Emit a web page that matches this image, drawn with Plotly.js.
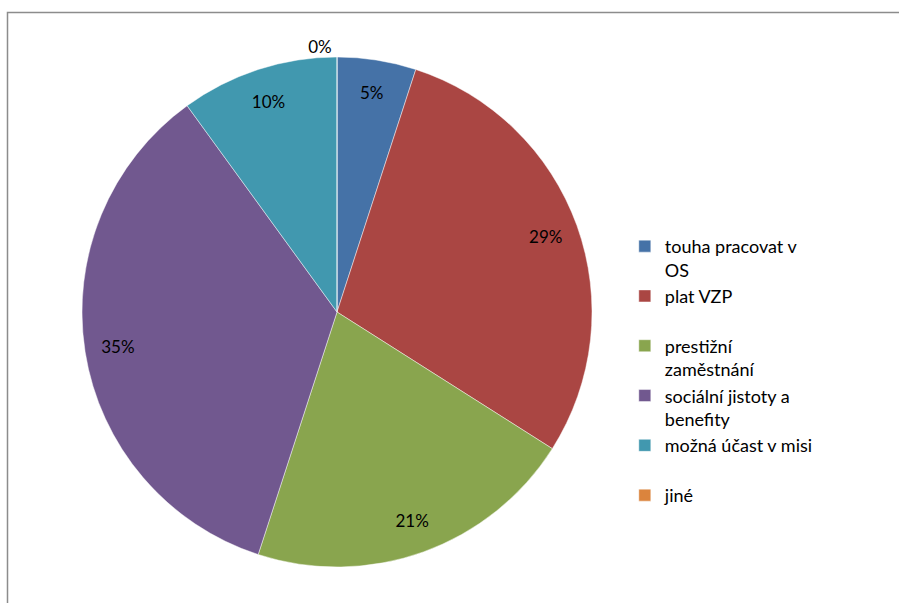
<!DOCTYPE html>
<html>
<head>
<meta charset="utf-8">
<script src="https://cdn.plot.ly/plotly-3.0.1.min.js"></script>
<style>html,body{margin:0;padding:0;background:#fff;}#chart{width:899px;height:603px;}</style>
</head>
<body>
<div id="chart"></div>
<script>
const categories = ["touha pracovat v<br>OS", "plat VZP<br> ", "prestižní<br>zaměstnání", "sociální jistoty a<br>benefity", "možná účast v misi<br> ", "jiné"];
const values = [5, 29, 21, 35, 10, 0];
const colors = ["#4572A7", "#AA4643", "#89A54E", "#71588F", "#4198AF", "#DB843D"];

const FONT = "Lato, 'Open Sans', sans-serif";
const dom = {x: [(337 - 255) / 899, (337 + 255) / 899], y: [(603 - 312 - 255) / 603, (603 - 312 + 255) / 603]};

const pieTrace = {
  type: "pie",
  labels: categories,
  values: values,
  sort: false,
  direction: "clockwise",
  rotation: 0,
  textinfo: "none",
  marker: {colors: colors, line: {color: "rgba(255,255,255,0.45)", width: 1}},
  domain: dom,
  hoverinfo: "label+percent"
};

// transparent ring overlay, used only to place the percentage labels near the rim
const labelTrace = {
  type: "pie",
  labels: categories,
  values: values,
  sort: false,
  direction: "clockwise",
  rotation: 0,
  hole: 0.74,
  showlegend: false,
  textinfo: "percent",
  textposition: ["inside", "inside", "inside", "inside", "inside", "outside"],
  insidetextorientation: "horizontal",
  insidetextfont: {color: "#000000", size: 17, family: FONT},
  outsidetextfont: {color: "#000000", size: 17, family: FONT},
  marker: {colors: values.map(() => "rgba(0,0,0,0)"), line: {width: 0}},
  domain: dom,
  hoverinfo: "skip"
};

const layout = {
  width: 899,
  height: 603,
  margin: {l: 0, r: 0, t: 0, b: 0},
  paper_bgcolor: "#ffffff",
  showlegend: true,
  legend: {
    x: 0.695, y: 0.622, xanchor: "left", yanchor: "top",
    valign: "top",
    font: {size: 18, family: FONT, color: "#000000"},
    itemwidth: 30,
    tracegroupgap: 0
  },
  shapes: [{
    type: "rect", xref: "paper", yref: "paper",
    x0: 7.5 / 899, x1: 1.05, y0: -0.05, y1: (603 - 12.5) / 603,
    line: {color: "#8c8c8c", width: 1.5}, fillcolor: "rgba(0,0,0,0)"
  }]
};

Plotly.newPlot("chart", [pieTrace, labelTrace], layout, {displayModeBar: false, staticPlot: true});
</script>
</body>
</html>
